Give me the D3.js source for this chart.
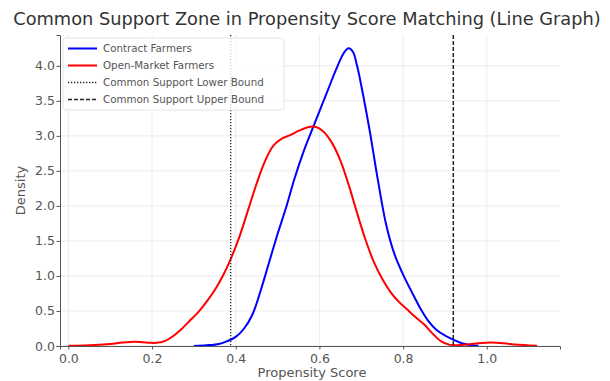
<!DOCTYPE html>
<html>
<head>
<meta charset="utf-8">
<script src="https://cdn.jsdelivr.net/npm/d3@7"></script>
<style>
body { margin: 0; background: #fff; }
svg text { font-family: "DejaVu Sans", sans-serif; }
</style>
</head>
<body>
<script>
var title = "Common Support Zone in Propensity Score Matching (Line Graph)";
var x_label = "Propensity Score", y_label = "Density";
var x_ticks = [0.0, 0.2, 0.4, 0.6, 0.8, 1.0];
var y_ticks = [0.0, 0.5, 1.0, 1.5, 2.0, 2.5, 3.0, 3.5, 4.0];

var contract_x = [0.30, 0.33, 0.36, 0.38, 0.40, 0.42, 0.44, 0.46, 0.48, 0.50,
                  0.52, 0.54, 0.56, 0.58, 0.60, 0.62, 0.64, 0.66, 0.67, 0.68,
                  0.69, 0.70, 0.72, 0.74, 0.76, 0.78, 0.80, 0.82, 0.84, 0.86,
                  0.88, 0.90, 0.92, 0.94, 0.96, 0.98];
var contract_y = [0.0, 0.01, 0.03, 0.07, 0.13, 0.25, 0.45, 0.8, 1.2, 1.6,
                  1.97, 2.38, 2.74, 3.05, 3.35, 3.65, 3.95, 4.2, 4.25, 4.2,
                  4.0, 3.72, 3.08, 2.36, 1.72, 1.3, 1.02, 0.78, 0.55, 0.36,
                  0.23, 0.15, 0.09, 0.04, 0.015, 0.003];

var open_x = [0.00, 0.05, 0.10, 0.13, 0.16, 0.19, 0.21, 0.23, 0.25, 0.27,
              0.29, 0.31, 0.33, 0.35, 0.37, 0.39, 0.41, 0.43, 0.45, 0.47,
              0.49, 0.51, 0.53, 0.55, 0.57, 0.59, 0.61, 0.63, 0.65, 0.67,
              0.69, 0.71, 0.73, 0.75, 0.77, 0.79, 0.81, 0.83, 0.85, 0.87,
              0.89, 0.91, 0.93, 0.95, 0.98, 1.01, 1.04, 1.07, 1.10, 1.12];
var open_y = [0.003, 0.01, 0.03, 0.05, 0.06, 0.048, 0.045, 0.07, 0.14, 0.24,
              0.36, 0.48, 0.63, 0.8, 1.01, 1.27, 1.58, 1.95, 2.32, 2.64,
              2.86, 2.96, 3.01, 3.07, 3.12, 3.13, 3.06, 2.9, 2.65, 2.3,
              1.9, 1.52, 1.2, 0.96, 0.77, 0.63, 0.52, 0.41, 0.31, 0.18,
              0.07, 0.02, 0.012, 0.02, 0.04, 0.05, 0.04, 0.02, 0.008, 0.002];

var lower_bound = 0.388, upper_bound = 0.92;

var legend_items = [
    { label: "Contract Farmers", color: "#0000ff", dash: null, width: 2 },
    { label: "Open-Market Farmers", color: "#ff0000", dash: null, width: 2 },
    { label: "Common Support Lower Bound", color: "#222", dash: "1.3,1.7", width: 1.3 },
    { label: "Common Support Upper Bound", color: "#222", dash: "4,2", width: 1.5 }
];

var W = 610, H = 381,
    m_left = 60, m_right = 560, m_top = 35, m_bottom = 346;

var x = d3.scaleLinear().domain([-0.02, 1.175]).range([m_left, m_right]),
    y = d3.scaleLinear().domain([0, 4.44]).range([m_bottom, m_top]);

var svg = d3.select("body").append("svg")
    .attr("width", W).attr("height", H);

// grid
svg.append("g").selectAll("line")
    .data(x_ticks)
  .enter().append("line")
    .attr("x1", function(d) { return x(d); }).attr("x2", function(d) { return x(d); })
    .attr("y1", m_top).attr("y2", m_bottom)
    .style("stroke", "#e6e6e6").style("stroke-width", 0.8);
svg.append("g").selectAll("line")
    .data(y_ticks)
  .enter().append("line")
    .attr("x1", m_left).attr("x2", m_right)
    .attr("y1", function(d) { return y(d); }).attr("y2", function(d) { return y(d); })
    .style("stroke", "#e6e6e6").style("stroke-width", 0.8);

var line = d3.line()
    .x(function(d) { return x(d[0]); })
    .y(function(d) { return y(d[1]); })
    .curve(d3.curveCatmullRom.alpha(0.5));

function pairs(xs, ys) { return xs.map(function(v, i) { return [v, ys[i]]; }); }

svg.append("path")
    .datum(pairs(contract_x, contract_y))
    .attr("d", line)
    .style("fill", "none").style("stroke", legend_items[0].color).style("stroke-width", 2);
svg.append("path")
    .datum(pairs(open_x, open_y))
    .attr("d", line)
    .style("fill", "none").style("stroke", legend_items[1].color).style("stroke-width", 2);

// bounds
[[lower_bound, legend_items[2]], [upper_bound, legend_items[3]]].forEach(function(b) {
    svg.append("line")
        .attr("x1", x(b[0])).attr("x2", x(b[0]))
        .attr("y1", m_top).attr("y2", m_bottom)
        .style("stroke", b[1].color).style("stroke-width", b[1].width)
        .style("stroke-dasharray", b[1].dash);
});

// axes
var xa = svg.append("g").attr("transform", "translate(0," + m_bottom + ")")
    .call(d3.axisBottom(x).tickValues(x_ticks).tickFormat(d3.format(".1f")).tickSizeOuter(0).tickSize(3.5));
var ya = svg.append("g").attr("transform", "translate(" + m_left + ",0)")
    .call(d3.axisLeft(y).tickValues(y_ticks).tickFormat(d3.format(".1f")).tickSizeOuter(0).tickSize(3.5));
[xa, ya].forEach(function(a) {
    a.select(".domain").style("stroke", "#555").style("stroke-width", 1);
    a.selectAll(".tick line").style("stroke", "#555");
    a.selectAll(".tick text").style("fill", "#555").style("font-size", "12.5px")
        .style("font-family", "DejaVu Sans");
});
xa.selectAll(".tick text").attr("dy", "0.85em");
ya.selectAll(".tick text").attr("x", -5);

svg.append("text")
    .attr("x", W / 2 + 2).attr("y", 25)
    .attr("text-anchor", "middle")
    .style("font-size", "17.8px").style("fill", "#333")
    .text(title);
svg.append("text")
    .attr("x", (m_left + m_right) / 2 + 2).attr("y", 377)
    .attr("text-anchor", "middle")
    .style("font-size", "13px").style("fill", "#555")
    .text(x_label);
svg.append("text")
    .attr("transform", "translate(25," + (m_top + m_bottom) / 2 + ") rotate(-90)")
    .attr("text-anchor", "middle")
    .style("font-size", "13px").style("fill", "#555")
    .text(y_label);

// legend
var lg = svg.append("g");
lg.append("rect")
    .attr("x", 63).attr("y", 38).attr("width", 221).attr("height", 72)
    .attr("rx", 3)
    .style("fill", "#fff").style("fill-opacity", 0.8)
    .style("stroke", "#ddd").style("stroke-width", 0.8);
var rows = lg.selectAll("g")
    .data(legend_items)
  .enter().append("g")
    .attr("transform", function(d, i) { return "translate(0," + (48.5 + i * 17) + ")"; });
rows.append("line")
    .attr("x1", 68).attr("x2", 97)
    .style("stroke", function(d) { return d.color; })
    .style("stroke-width", function(d) { return d.width; })
    .style("stroke-dasharray", function(d) { return d.dash; });
rows.append("text")
    .attr("x", 103).attr("dy", "0.35em")
    .style("font-size", "10.3px").style("fill", "#555")
    .text(function(d) { return d.label; });
</script>
</body>
</html>
